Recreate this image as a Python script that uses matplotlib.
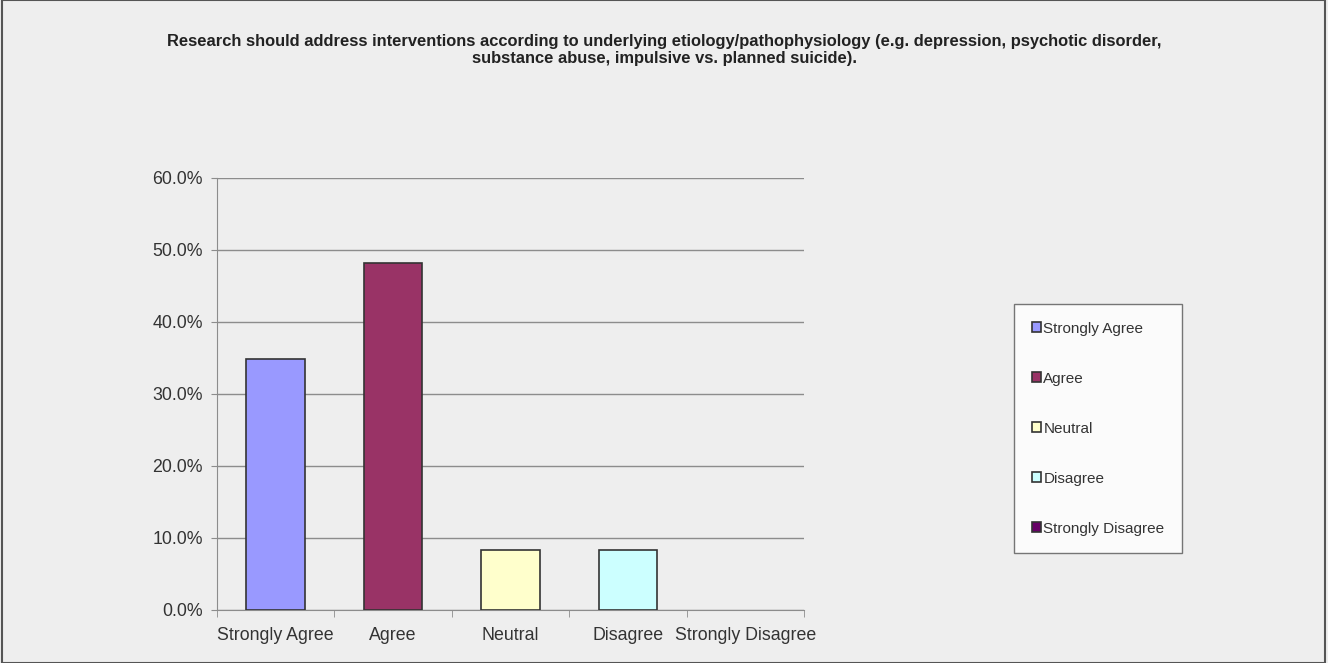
import matplotlib.pyplot as plt
import numpy as np
from matplotlib.patches import Rectangle

categories = ['Strongly Agree', 'Agree', 'Neutral', 'Disagree', 'Strongly Disagree']
values = [34.9, 48.2, 8.4, 8.4, 0.0]
colors = ['#9999FF', '#993366', '#FFFFCC', '#CCFFFF', '#660066']
yticks = [0, 10, 20, 30, 40, 50, 60]
title = ('Research should address interventions according to underlying etiology/pathophysiology (e.g. depression, psychotic disorder,\n'
         'substance abuse, impulsive vs. planned suicide).')

plt.rcParams['font.family'] = ['Liberation Sans', 'DejaVu Sans']
bg = '#EEEEEE'
txt = '#333333'

fig = plt.figure(figsize=(13.28, 6.63), dpi=100, facecolor=bg)
fig.patches.append(Rectangle((2 / 1328, 0), 1323 / 1328, 1, transform=fig.transFigure,
                             fill=False, edgecolor='#555555', linewidth=1.5))
ax = fig.add_axes([217 / 1328, 1 - 610 / 663, 587 / 1328, 432 / 663])
ax.set_facecolor(bg)

x = np.arange(len(categories))
edges = ['#333333' if v > 0 else 'none' for v in values]
ax.bar(x, values, width=0.5, color=colors, edgecolor=edges, linewidth=1.2, zorder=3)

ax.set_xlim(-0.5, len(categories) - 0.5)
ax.set_ylim(0, 60)
ax.set_yticks(yticks)
ax.set_yticklabels(['%.1f%%' % v for v in yticks], fontsize=12.8, color=txt)
ax.yaxis.grid(True, color='#8C8C8C', linewidth=1, zorder=0)
ax.set_xticks(x)
ax.set_xticklabels(categories, fontsize=12.8, color=txt)
ax.set_xticks(np.arange(-0.5, len(categories)), minor=True)
ax.tick_params(axis='x', which='major', length=0, pad=12)
ax.tick_params(axis='x', which='minor', length=5, color='#8C8C8C')
ax.tick_params(axis='y', length=4, color='#8C8C8C', pad=6)
for s in ['top', 'right']:
    ax.spines[s].set_visible(False)
for s in ['left', 'bottom']:
    ax.spines[s].set_color('#8C8C8C')

handles = [Rectangle((0, 0), 1, 1, facecolor=c, edgecolor='#333333', linewidth=1.2) for c in colors]
leg = fig.legend(handles, categories, loc='upper left', bbox_to_anchor=(1014 / 1328, 1 - 304 / 663),
                 fontsize=11, frameon=True, fancybox=False, handlelength=0.62, handleheight=0.62,
                 handletextpad=0.15, labelspacing=2.36, borderpad=1.15, borderaxespad=0)
leg.get_frame().set_edgecolor('#555555')
leg.get_frame().set_facecolor('white')
leg.get_frame().set_linewidth(1)
for t in leg.get_texts():
    t.set_color(txt)

fig.text(0.5, 1 - 50 / 663, title, ha='center', va='center', fontsize=11.9, fontweight='bold',
         color='#222222', linespacing=1.2)

fig.savefig('out.png', dpi=100, facecolor=bg)
